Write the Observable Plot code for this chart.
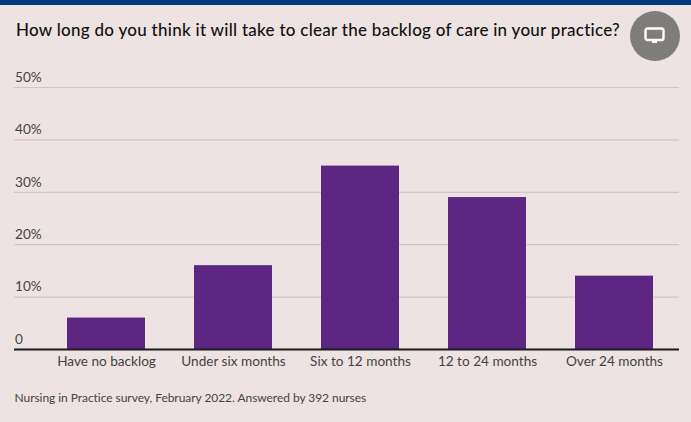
<!DOCTYPE html>
<html>
<head>
<meta charset="utf-8">
<script src="https://cdn.jsdelivr.net/npm/d3@7"></script>
<script src="https://cdn.jsdelivr.net/npm/@observablehq/plot@0.6"></script>
<style>
html,body{margin:0;padding:0;background:#ede3e2;}
#wrap{position:relative;width:691px;height:422px;overflow:hidden;background:#ede3e2;font-family:Lato,sans-serif;}
#bar{position:absolute;left:0;top:0;width:691px;height:5px;background:#003a7d;}
#title{position:absolute;left:16px;top:19px;font-size:17px;line-height:22px;font-weight:500;color:#111;white-space:nowrap;letter-spacing:.27px;margin:0;}
#caption{position:absolute;left:14.5px;top:390px;font-size:12px;line-height:15px;color:#444;white-space:nowrap;letter-spacing:-.05px;margin:0;}
#icon{position:absolute;left:630px;top:11px;width:50px;height:50px;border-radius:50%;background:#7f7d7b;}
#icon svg{position:absolute;left:14px;top:16px;}
#chart{position:absolute;left:0;top:0;}
#chart svg{background:transparent;display:block;}
</style>
</head>
<body>
<div id="wrap">
<div id="chart"></div>
<div id="bar"></div>
<h1 id="title">How long do you think it will take to clear the backlog of care in your practice?</h1>
<div id="icon"><svg width="22" height="18" viewBox="0 0 22 18"><rect x="1.5" y="1.5" width="18" height="11.5" rx="2" fill="none" stroke="#fff" stroke-width="2.4"/><path d="M8 15h5M10.5 13v2" stroke="#fff" stroke-width="2"/></svg></div>
<p id="caption">Nursing in Practice survey, February 2022. Answered by 392 nurses</p>
</div>
<script>
const categories = ["Have no backlog","Under six months","Six to 12 months","12 to 24 months","Over 24 months"];
const values = [6,16,35,29,14];
const yTicks = [0,10,20,30,40,50];
const rows = categories.map((c,i)=>({category:c,value:values[i]}));
const plot = Plot.plot({
  width:691,height:422,marginTop:87,marginBottom:73,marginLeft:14,marginRight:12,
  style:{background:"transparent",fontFamily:"Lato, sans-serif",fontSize:"13.6px"},
  x:{domain:categories,range:[42.1,678.1],paddingInner:0.382,paddingOuter:0.191,align:0.5,label:null},
  y:{domain:[0,50],label:null},
  marks:[
    Plot.ruleY(yTicks.filter(d=>d>0),{stroke:"#cfc7c6",strokeWidth:1.2}),
    Plot.barY(rows,{x:"category",y:"value",fill:"#5c2682"}),
    Plot.ruleY([0],{stroke:"#1c1c1c",strokeWidth:2}),
    Plot.axisY({ticks:yTicks,tickSize:0,textAnchor:"start",dx:9.5,dy:-10,label:null,color:"#444",fontSize:13.6,tickFormat:d=>d?d+"%":"0"}),
    Plot.axisX({tickSize:0,tickPadding:7,label:null,color:"#444",fontSize:13.6})
  ]
});
document.getElementById("chart").append(plot);
</script>
</body>
</html>
